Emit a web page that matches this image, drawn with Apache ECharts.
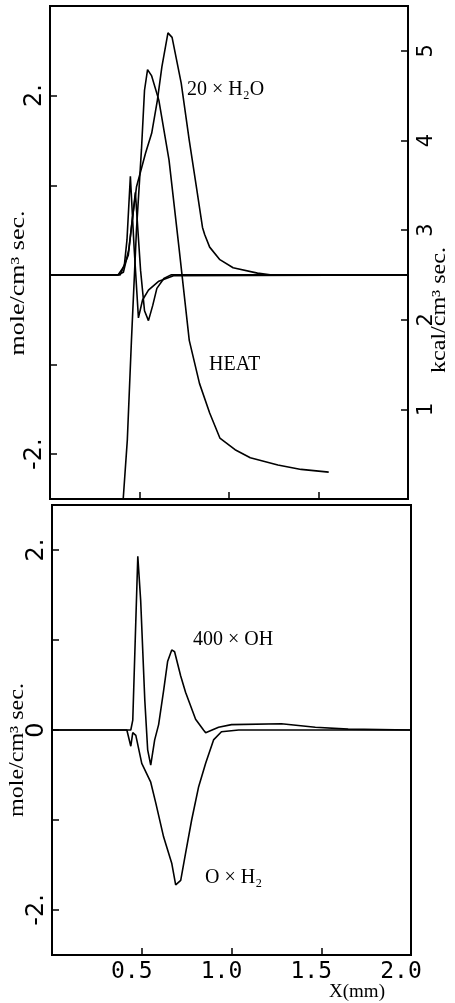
<!DOCTYPE html>
<html>
<head>
<meta charset="utf-8">
<script src="https://cdn.jsdelivr.net/npm/echarts@6/dist/echarts.min.js"></script>
<style>
html, body { margin: 0; padding: 0; background: #fff; }
#chart { width: 455px; height: 1003px; }
</style>
</head>
<body>
<div id="chart"></div>
<script>
// 上图: 20×H2O, 两条尖峰曲线 (mole/cm3 sec), HEAT (kcal/cm3 sec)
const h2oX = [0, 0.38, 0.41, 0.44, 0.46, 0.483, 0.534, 0.568, 0.6, 0.625, 0.659, 0.682, 0.733, 0.778, 0.818, 0.852, 0.864, 0.892, 0.949, 1.023, 1.159, 1.23, 2.0];
const h2oY = [0, 0, 0.03, 0.28, 0.62, 0.98, 1.36, 1.58, 1.95, 2.32, 2.70, 2.65, 2.14, 1.50, 0.98, 0.53, 0.45, 0.31, 0.17, 0.08, 0.02, 0, 0];

const spike1X = [0, 0.38, 0.415, 0.43, 0.449, 0.47, 0.494, 0.517, 0.55, 0.608, 0.69, 2.0];
const spike1Y = [0, 0, 0.1, 0.39, 1.10, 0.30, -0.48, -0.28, -0.17, -0.07, -0.01, 0];

const spike2X = [0, 0.392, 0.4375, 0.477, 0.506, 0.528, 0.55, 0.574, 0.597, 0.636, 0.676, 2.0];
const spike2Y = [0, 0, 0.22, 0.92, 0.05, -0.40, -0.51, -0.34, -0.15, -0.04, 0, 0];

const heatX = [0, 0.409, 0.432, 0.455, 0.483, 0.511, 0.528, 0.545, 0.568, 0.608, 0.665, 0.722, 0.778, 0.835, 0.892, 0.949, 1.034, 1.119, 1.273, 1.403, 1.557];
const heatY = [0, 0, 0.66, 1.77, 3.0, 3.9, 4.56, 4.79, 4.72, 4.45, 3.78, 2.78, 1.77, 1.29, 0.96, 0.68, 0.55, 0.46, 0.38, 0.33, 0.30];

// 下图: 400×OH, O×H2
const ohX = [0, 0.439, 0.45, 0.478, 0.494, 0.517, 0.533, 0.55, 0.572, 0.594, 0.622, 0.644, 0.667, 0.683, 0.717, 0.744, 0.8, 0.844, 0.856, 0.928, 1.0, 1.278, 1.467, 1.65, 2.0];
const ohY = [0, 0, 0.11, 1.93, 1.44, 0.33, -0.22, -0.39, -0.11, 0.06, 0.44, 0.76, 0.89, 0.87, 0.60, 0.42, 0.12, 0.0, -0.03, 0.03, 0.06, 0.07, 0.03, 0.01, 0];

const h2X = [0, 0.417, 0.439, 0.45, 0.467, 0.5, 0.55, 0.578, 0.622, 0.667, 0.689, 0.717, 0.744, 0.778, 0.817, 0.856, 0.9, 0.944, 1.04, 2.0];
const h2Y = [0, 0, -0.18, -0.03, -0.06, -0.37, -0.58, -0.81, -1.19, -1.48, -1.72, -1.67, -1.37, -1.0, -0.63, -0.37, -0.11, -0.02, 0, 0];

// 刻度
const xTicks = [0.5, 1.0, 1.5];
const xLabelValues = [0.5, 1.0, 1.5, 2.0];
const xLabels = ['0.5', '1.0', '1.5', '2.0'];
const leftTicks = [-2, -1, 0, 1, 2];
const topLeftLabels = [-2, 2];
const bottomLeftLabels = [-2, 0, 2];
const rightTicks = [1, 2, 3, 4, 5];

const zip = (xs, ys) => xs.map((x, i) => [x, ys[i]]);

const black = '#000';
const lineBase = {
    type: 'line',
    showSymbol: false,
    symbol: 'none',
    lineStyle: { color: black, width: 1.6 },
    animation: false
};

const yFmt = v => (v === 0 ? '0' : (v < 0 ? '-' + Math.abs(v) + '.' : v + '.'));

const chart = echarts.init(document.getElementById('chart'));
chart.setOption({
    backgroundColor: '#fff',
    animation: false,
    grid: [
        { left: 50, top: 6, width: 358, height: 493, show: true, borderColor: black, borderWidth: 2 },
        { left: 52, top: 505, width: 359, height: 450, show: true, borderColor: black, borderWidth: 2 }
    ],
    xAxis: [
        {
            gridIndex: 0, type: 'value', min: 0, max: 2,
            axisLine: { onZero: false, lineStyle: { color: black, width: 2 } },
            axisTick: { inside: true, length: 7, customValues: xTicks, lineStyle: { color: black, width: 1.5 } },
            axisLabel: { show: false },
            splitLine: { show: false }
        },
        {
            gridIndex: 1, type: 'value', min: 0, max: 2,
            axisLine: { onZero: false, lineStyle: { color: black, width: 2 } },
            axisTick: { inside: true, length: 7, customValues: xTicks, lineStyle: { color: black, width: 1.5 } },
            axisLabel: {
                customValues: xLabelValues,
                formatter: v => xLabels[xLabelValues.indexOf(v)],
                color: black, fontFamily: 'DejaVu Sans Mono', fontSize: 23, margin: 6,
                padding: [0, 20, 0, 0]
            },
            splitLine: { show: false }
        }
    ],
    yAxis: [
        {
            gridIndex: 0, type: 'value', position: 'left', min: -2.5, max: 3,
            axisLine: { onZero: false, lineStyle: { color: black, width: 2 } },
            axisTick: { inside: true, length: 7, customValues: leftTicks, lineStyle: { color: black, width: 1.5 } },
            axisLabel: { customValues: topLeftLabels, formatter: yFmt, rotate: 90, color: black, fontFamily: 'DejaVu Sans', fontSize: 24, margin: 3 },
            splitLine: { show: false }
        },
        {
            gridIndex: 0, type: 'value', position: 'right', min: 0, max: 5.5,
            axisLine: { onZero: false, lineStyle: { color: black, width: 2 } },
            axisTick: { inside: true, length: 7, customValues: rightTicks, lineStyle: { color: black, width: 1.5 } },
            axisLabel: { customValues: rightTicks, rotate: 90, color: black, fontFamily: 'DejaVu Sans', fontSize: 21, margin: 8 },
            splitLine: { show: false }
        },
        {
            gridIndex: 1, type: 'value', position: 'left', min: -2.5, max: 2.5,
            axisLine: { onZero: false, lineStyle: { color: black, width: 2 } },
            axisTick: { inside: true, length: 7, customValues: leftTicks, lineStyle: { color: black, width: 1.5 } },
            axisLabel: { customValues: bottomLeftLabels, formatter: yFmt, rotate: 90, color: black, fontFamily: 'DejaVu Sans', fontSize: 24, margin: 3 },
            splitLine: { show: false }
        }
    ],
    series: [
        Object.assign({ name: '20×H2O', xAxisIndex: 0, yAxisIndex: 0, data: zip(h2oX, h2oY) }, lineBase),
        Object.assign({ name: 'spike1', xAxisIndex: 0, yAxisIndex: 0, data: zip(spike1X, spike1Y) }, lineBase),
        Object.assign({ name: 'spike2', xAxisIndex: 0, yAxisIndex: 0, data: zip(spike2X, spike2Y) }, lineBase),
        Object.assign({ name: 'HEAT', xAxisIndex: 0, yAxisIndex: 1, data: zip(heatX, heatY) }, lineBase),
        Object.assign({ name: '400×OH', xAxisIndex: 1, yAxisIndex: 2, data: zip(ohX, ohY) }, lineBase),
        Object.assign({ name: 'O×H2', xAxisIndex: 1, yAxisIndex: 2, data: zip(h2X, h2Y) }, lineBase)
    ],
    graphic: [
        // 曲线标注
        { type: 'text', x: 187, y: 90, style: { text: '20 × H₂O', font: '20px "Liberation Serif"', fill: black, textAlign: 'left', textVerticalAlign: 'middle' } },
        { type: 'text', x: 209, y: 365, style: { text: 'HEAT', font: '20px "Liberation Serif"', fill: black, textAlign: 'left', textVerticalAlign: 'middle' } },
        { type: 'text', x: 193, y: 640, style: { text: '400 × OH', font: '20px "Liberation Serif"', fill: black, textAlign: 'left', textVerticalAlign: 'middle' } },
        { type: 'text', x: 205, y: 878, style: { text: 'O × H₂', font: '20px "Liberation Serif"', fill: black, textAlign: 'left', textVerticalAlign: 'middle' } },
        // 坐标轴名称
        { type: 'text', x: 19, y: 283, rotation: Math.PI / 2, scaleX: 1.3, style: { text: 'mole/cm³ sec.', font: '20px "Liberation Serif"', fill: black, textAlign: 'center', textVerticalAlign: 'middle' } },
        { type: 'text', x: 440, y: 310, rotation: Math.PI / 2, scaleX: 1.2, style: { text: 'kcal/cm³ sec.', font: '20px "Liberation Serif"', fill: black, textAlign: 'center', textVerticalAlign: 'middle' } },
        { type: 'text', x: 18, y: 750, rotation: Math.PI / 2, scaleX: 1.2, style: { text: 'mole/cm³ sec.', font: '20px "Liberation Serif"', fill: black, textAlign: 'center', textVerticalAlign: 'middle' } },
        { type: 'text', x: 357, y: 992, style: { text: 'X(mm)', font: '19px "Liberation Serif"', fill: black, textAlign: 'center', textVerticalAlign: 'middle' } }
    ]
});
</script>
</body>
</html>
